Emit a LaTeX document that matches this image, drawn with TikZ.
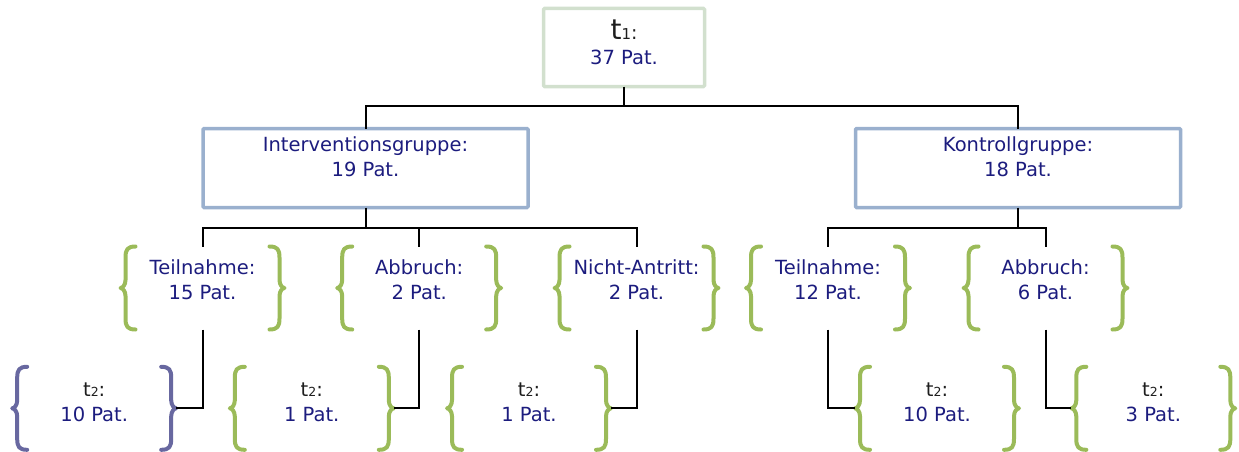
\documentclass[tikz,border=0pt]{standalone}
\usepackage{fontspec}
\setmainfont{DejaVu Sans}
\usetikzlibrary{calc}
\definecolor{navy}{RGB}{28,28,126}
\definecolor{tblack}{RGB}{30,30,30}
\definecolor{bracegreen}{RGB}{155,187,89}
\definecolor{bracepurple}{RGB}{104,104,160}
\definecolor{topborder}{RGB}{210,224,206}
\definecolor{grpborder}{RGB}{154,176,206}
\tikzset{
  bracepath/.style={line width=4pt, line cap=round, line join=round},
  grp/.style={minimum width=164pt, minimum height=83pt, inner sep=0pt, outer sep=0pt},
  txt/.style={align=center, inner sep=0pt, outer sep=0pt, font=\fontsize{19.5}{25}\selectfont, text=navy},
  conn/.style={line width=2pt, black},
  topbox/.style={draw=topborder, line width=3.5pt, minimum width=161pt, minimum height=78pt, inner sep=0pt, outer sep=0pt, rounded corners=1pt},
  mainbox/.style={draw=grpborder, line width=3.5pt, minimum width=325pt, minimum height=79pt, inner sep=0pt, outer sep=0pt, rounded corners=1pt}
}
\newcommand\drawbraces[2]{%
  \draw[bracepath,#1] ($(#2.north west)+(15,0)$) .. controls +(-8,0) and +(0,-8) .. ($(#2.north west)+(5,11)$)
    -- ($(#2.west)+(5,-8)$) .. controls +(0,5) and +(2,0) .. (#2.west)
    .. controls +(2,0) and +(0,-5) .. ($(#2.west)+(5,8)$)
    -- ($(#2.south west)+(5,-11)$) .. controls +(0,8) and +(-8,0) .. ($(#2.south west)+(15,0)$);
  \draw[bracepath,#1] ($(#2.north east)+(-15,0)$) .. controls +(8,0) and +(0,-8) .. ($(#2.north east)+(-5,11)$)
    -- ($(#2.east)+(-5,-8)$) .. controls +(0,5) and +(-2,0) .. (#2.east)
    .. controls +(-2,0) and +(0,-5) .. ($(#2.east)+(-5,8)$)
    -- ($(#2.south east)+(-5,-11)$) .. controls +(0,8) and +(8,0) .. ($(#2.south east)+(-15,0)$);
}
\begin{document}
\begin{tikzpicture}[x=1pt,y=-1pt]
\useasboundingbox (0,0) rectangle (1239,452);

% top box
\node[topbox] (t1) at (624,47.5) {};
\node[txt] (t1t) at (624,42.3) {{\color{tblack}{\fontsize{28}{28}\selectfont t}{\fontsize{15}{15}\selectfont 1}{\fontsize{19}{19}\selectfont :}}\\37 Pat.};

% group boxes
\node[mainbox] (ig) at (365.5,168) {};
\node[txt] (igt) at (365.5,157) {Interventionsgruppe:\\19 Pat.};
\node[mainbox] (kg) at (1018,168) {};
\node[txt] (kgt) at (1018,157) {Kontrollgruppe:\\18 Pat.};

% level 2
\node[grp] (g1) at (202.5,288) {};
\node[grp] (g2) at (419.2,288) {};
\node[grp] (g3) at (636.5,288) {};
\node[grp] (g4) at (828,288) {};
\node[grp] (g5) at (1045.5,288) {};
\node[txt] (g1t) at ($(g1.center)+(0,-8.6)$) {Teilnahme:\\15 Pat.};
\node[txt] (g2t) at ($(g2.center)+(0,-8.6)$) {Abbruch:\\2 Pat.};
\node[txt] (g3t) at ($(g3.center)+(0,-8.6)$) {Nicht-Antritt:\\2 Pat.};
\node[txt] (g4t) at ($(g4.center)+(0,-8.6)$) {Teilnahme:\\12 Pat.};
\node[txt] (g5t) at ($(g5.center)+(0,-8.6)$) {Abbruch:\\6 Pat.};
\drawbraces{bracegreen}{g1}
\drawbraces{bracegreen}{g2}
\drawbraces{bracegreen}{g3}
\drawbraces{bracegreen}{g4}
\drawbraces{bracegreen}{g5}

% level 3
\node[grp] (h1) at (94.2,408.3) {};
\node[grp] (h2) at (311.8,408.3) {};
\node[grp] (h3) at (529,408.3) {};
\node[grp] (h4) at (937,408.3) {};
\node[grp] (h5) at (1153.3,408.3) {};
\node[txt] (h1t) at ($(h1.center)+(0,-6)$) {{\color{tblack}t{\fontsize{12.5}{12.5}\selectfont 2}:}\\10 Pat.};
\node[txt] (h2t) at ($(h2.center)+(0,-6)$) {{\color{tblack}t{\fontsize{12.5}{12.5}\selectfont 2}:}\\1 Pat.};
\node[txt] (h3t) at ($(h3.center)+(0,-6)$) {{\color{tblack}t{\fontsize{12.5}{12.5}\selectfont 2}:}\\1 Pat.};
\node[txt] (h4t) at ($(h4.center)+(0,-6)$) {{\color{tblack}t{\fontsize{12.5}{12.5}\selectfont 2}:}\\10 Pat.};
\node[txt] (h5t) at ($(h5.center)+(0,-6)$) {{\color{tblack}t{\fontsize{12.5}{12.5}\selectfont 2}:}\\3 Pat.};
\drawbraces{bracepurple}{h1}
\drawbraces{bracegreen}{h2}
\drawbraces{bracegreen}{h3}
\drawbraces{bracegreen}{h4}
\drawbraces{bracegreen}{h5}

% connectors
\coordinate (j0) at ($(t1.south)+(0,19.5)$);
\draw[conn] (t1.south) -- (j0);
\draw[conn] (ig.north) |- (j0) -| (kg.north);

\coordinate (jI) at ($(ig.south)+(0,20)$);
\draw[conn] (ig.south) -- (jI);
\draw[conn] (g1.north) |- (jI) -| (g3.north);
\draw[conn] (g2.north) -- (g2.north |- jI);

\coordinate (jK) at ($(kg.south)+(0,20)$);
\draw[conn] (kg.south) -- (jK);
\draw[conn] (g4.north) |- (jK) -| (g5.north);

\draw[conn] (g1.south) |- (h1.east);
\draw[conn] (g2.south) |- (h2.east);
\draw[conn] (g3.south) |- (h3.east);
\draw[conn] (g4.south) |- (h4.west);
\draw[conn] (g5.south) |- (h5.west);
\end{tikzpicture}
\end{document}
